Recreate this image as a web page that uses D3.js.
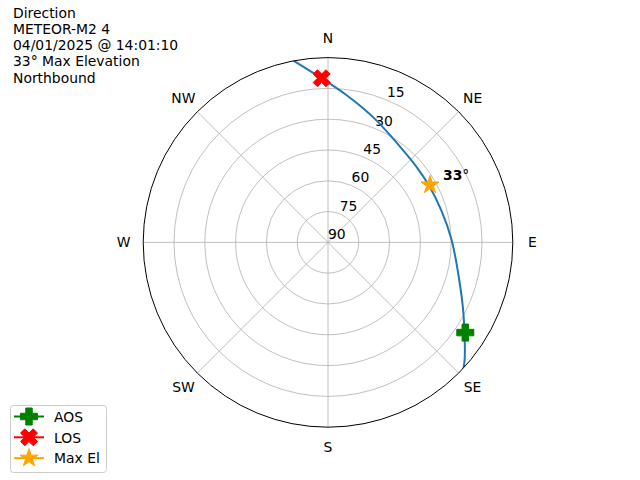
<!DOCTYPE html>
<html><head><meta charset="utf-8">
<script src="https://cdn.jsdelivr.net/npm/d3@7"></script>
<style>body{margin:0;background:#fff}svg{display:block}text{font-family:"DejaVu Sans",sans-serif}</style>
</head><body><svg id="c" width="640" height="480"></svg>
<script>
// Data
const titleLines = ["Direction","METEOR-M2 4","04/01/2025 @ 14:01:10","33° Max Elevation","Northbound"];
const trackAz = [134.5,131.4,125.5,115.4,103.3,88.9,74.1,60.6,49.0,39.7,30.0,21.7,13.9,7.2,0.7,-11.7];
const trackEl = [-1.5,1.0,8.1,17.0,24.8,29.3,32.4,33.3,33.1,32.2,29.6,25.9,21.9,17.6,12.5,-1.5];
const aos = {az:123.3, el:10};
const los = {az:-2.2, el:10};
const maxEl = {az:60.6, el:33};
const rTicks = [15,30,45,60,75,90];
const dirLabels = ["N","NE","E","SE","S","SW","W","NW"];
const dirAngles = [0,45,90,135,180,225,270,315];
const legendItems = ["AOS","LOS","Max El"];

const svg = d3.select("#c");
const cx = 328, cy = 242.4, R = 184.8;
const r = d3.scaleLinear().domain([90,0]).range([0,R]);
const rad = d => d*Math.PI/180;
const px = (az,el) => [cx + r(el)*Math.sin(rad(az)), cy - r(el)*Math.cos(rad(az))];
const FS = 13.9;

// title
svg.append("g").selectAll("text").data(titleLines).join("text")
  .attr("x",13).attr("y",(d,i)=>17.5+i*16.3).attr("font-size",FS).attr("fill","#000").text(d=>d);

const g = svg.append("g").attr("transform",`translate(${cx},${cy})`);
svg.append("defs").append("clipPath").attr("id","clip").append("circle").attr("cx",0).attr("cy",0).attr("r",R);

// grid circles
g.selectAll("circle.grid").data([15,30,45,60,75]).join("circle")
  .attr("r",d=>r(d)).attr("fill","none").attr("stroke","#b0b0b0").attr("stroke-width",0.8);
// spokes
g.selectAll("line.spoke").data(dirAngles).join("line")
  .attr("x1",0).attr("y1",0)
  .attr("x2",d=>R*Math.sin(rad(d))).attr("y2",d=>-R*Math.cos(rad(d)))
  .attr("stroke","#b0b0b0").attr("stroke-width",0.8);

// radial labels
g.selectAll("text.rl").data(rTicks).join("text")
  .attr("x",d=>r(d)*Math.sin(rad(22.5))).attr("y",d=>-r(d)*Math.cos(rad(22.5))-3)
  .attr("font-size",FS).text(d=>d);
// direction labels
g.selectAll("text.dl").data(dirAngles).join("text")
  .attr("x",d=>204.5*Math.sin(rad(d))).attr("y",d=>-204.5*Math.cos(rad(d)))
  .attr("text-anchor","middle").attr("dominant-baseline","central")
  .attr("font-size",FS).text((d,i)=>dirLabels[i]);

// track
const track = trackAz.map((a,i)=>({az:a, el:trackEl[i]}));
const line = d3.lineRadial().angle(d=>rad(d.az)).radius(d=>r(d.el)).curve(d3.curveBasis);
g.append("g").attr("clip-path","url(#clip)").append("path")
  .attr("d",line(track)).attr("fill","none").attr("stroke","#1f77b4").attr("stroke-width",2);
// outer
g.append("circle").attr("r",R).attr("fill","none").attr("stroke","#000").attr("stroke-width",1);

// marker paths
function plusPath(s){const a=s/2,b=s/2*0.38;return `M${-a},${-b}H${-b}V${-a}H${b}V${-b}H${a}V${b}H${b}V${a}H${-b}V${b}H${-a}Z`;}
function xPath(s){const k=s/2/2;const pts=[[-1,-2],[0,-1],[1,-2],[2,-1],[1,0],[2,1],[1,2],[0,1],[-1,2],[-2,1],[-1,0],[-2,-1]];
  return "M"+pts.map(p=>[p[0]*k,p[1]*k].join(",")).join("L")+"Z";}
function starPath(s){const ro=s/2, ri=ro*0.381966; const pts=[];
  for(let i=0;i<10;i++){const a=Math.PI*i/5; const rr=i%2?ri:ro; pts.push([rr*Math.sin(a),-rr*Math.cos(a)]);}
  return "M"+pts.map(p=>p.join(",")).join("L")+"Z";}
const markers = [
  {name:"AOS", color:"green", path:plusPath(17), pos:aos},
  {name:"LOS", color:"red", path:xPath(17), pos:los},
  {name:"Max El", color:"orange", path:starPath(19), pos:maxEl}
];
markers.forEach(m=>{
  const [x,y]=px(m.pos.az,m.pos.el);
  svg.append("path").attr("d",m.path).attr("transform",`translate(${x},${y})`)
    .attr("fill",m.color).attr("stroke",m.color).attr("stroke-width",1).attr("stroke-linejoin","round");
});

// max el label
const lab = svg.append("text").attr("x",443).attr("y",180).attr("font-size",FS);
lab.append("tspan").attr("font-weight","bold").text(String(maxEl.el));
lab.append("tspan").text("°");

// legend
const lg = svg.append("g");
lg.append("rect").attr("x",10.5).attr("y",405.5).attr("width",96).attr("height",67).attr("rx",3)
  .attr("fill","#fff").attr("fill-opacity",0.8).attr("stroke","#cccccc").attr("stroke-width",1);
markers.forEach((m,i)=>{
  const y = 416.5 + i*20.8;
  lg.append("line").attr("x1",14).attr("x2",44).attr("y1",y).attr("y2",y).attr("stroke",m.color).attr("stroke-width",2);
  lg.append("path").attr("d",m.path).attr("transform",`translate(29,${y})`)
    .attr("fill",m.color).attr("stroke",m.color).attr("stroke-width",1).attr("stroke-linejoin","round");
  lg.append("text").attr("x",54).attr("y",y+5.2).attr("font-size",FS).text(legendItems[i]);
});
</script></body></html>
